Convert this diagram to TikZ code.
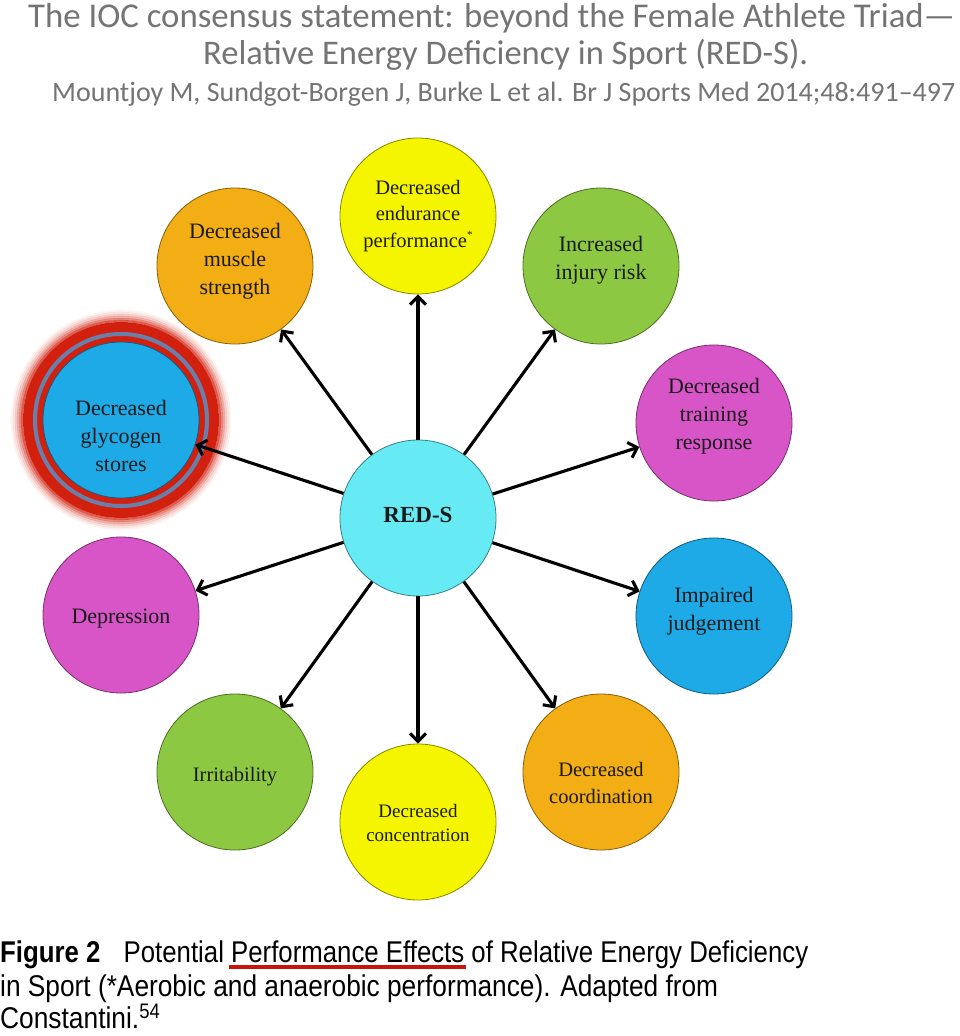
\documentclass[tikz,border=0pt]{standalone}
\usepackage{fontspec}
\usepackage{graphicx}
\setmainfont{Liberation Serif}
\newfontfamily\titlefont{Carlito}
\newfontfamily\capfont{Liberation Sans}
\usetikzlibrary{arrows.meta}
\definecolor{cyel}{HTML}{F5F500}
\definecolor{corg}{HTML}{F2AE14}
\definecolor{cgrn}{HTML}{8CC841}
\definecolor{cmag}{HTML}{D855C8}
\definecolor{cblu}{HTML}{1EAAE6}
\definecolor{ccya}{HTML}{66EBF5}
\definecolor{ctxt}{HTML}{1A1A1A}
\definecolor{ctitle}{HTML}{747474}
\definecolor{cred}{HTML}{D2200E}
\definecolor{cring}{HTML}{6A80AC}
\definecolor{ulred}{HTML}{C8140A}
\newcommand\redul[1]{\setbox0\hbox{#1}\rlap{\kern-2pt\color{ulred}\rule[-7pt]{\dimexpr\wd0+4pt\relax}{4pt}}\box0\relax}
\tikzset{
  bub/.style={circle, minimum size=156pt, inner sep=0pt, draw=#1!55!black, fill=#1, line width=0.8pt},
  lbl/.style={align=center, text=ctxt, inner sep=0pt},
  big/.style={font=\fontsize{22}{28}\selectfont},
  mid/.style={font=\fontsize{20.5}{26.5}\selectfont},
  sml/.style={font=\fontsize{19}{24}\selectfont},
  arr/.style={line width=3.1pt, -{Straight Barb[length=8pt,width=16pt]}},
  ttl/.style={anchor=base west, inner sep=0pt, text=ctitle},
  capline/.style={anchor=base west, inner sep=0pt, text=black}
}
\begin{document}
\begin{tikzpicture}[x=1pt,y=-1pt]
\useasboundingbox (0,0) rectangle (960,1036);
\fill[white] (0,0) rectangle (960,1036);

% title
\node[ttl] (t1) at (28,27) {\resizebox{927pt}{!}{\titlefont\fontsize{30}{30}\selectfont The IOC consensus statement: beyond the Female Athlete Triad—}};
\node[ttl] (t2) at (203,64) {\resizebox{605pt}{!}{\titlefont\fontsize{30}{30}\selectfont Relative Energy Deficiency in Sport (RED-S).}};
\node[ttl] (t3) at (52,101) {\resizebox{903pt}{!}{\titlefont\fontsize{26}{26}\selectfont Mountjoy M, Sundgot-Borgen J, Burke L et al. Br J Sports Med 2014;48:491–497}};

% glow around glycogen
\foreach \r/\o in {109/0.05,107/0.12,105/0.22,103/0.36,101/0.52,99/0.72} {
  \draw[cred, line width=2.2pt, opacity=\o] (121,420) circle (\r pt);
}
\fill[cred] (121,420) circle (98pt);
\draw[cring, line width=4pt] (121,420) circle (86pt);

% circles
\node[bub=ccya] (reds)  at (418,518) {};
\node[bub=cyel] (endur) at (418,216) {};
\node[bub=corg] (musc)  at (235,266) {};
\node[bub=cgrn] (inj)   at (601,266) {};
\node[bub=cmag] (train) at (714,423) {};
\node[bub=cblu] (judg)  at (714,616) {};
\node[bub=corg] (coord) at (601,772) {};
\node[bub=cyel] (conc)  at (418,822) {};
\node[bub=cgrn] (irr)   at (235,772) {};
\node[bub=cmag] (dep)   at (121,615) {};
\node[bub=cblu] (glyc)  at (121,420) {};

% labels
\node[lbl] (lreds)  at (418,515) {\fontsize{23}{28}\selectfont\bfseries RED-S};
\node[lbl, mid] (lendur) at (418,216) {Decreased\\endurance\\performance\raisebox{0.45em}{\fontsize{11}{11}\selectfont *}};
\node[lbl, big] (lmusc)  at (235,261) {Decreased\\muscle\\strength};
\node[lbl, big] (linj)   at (601,260) {Increased\\injury risk};
\node[lbl, big] (ltrain) at (714,416) {Decreased\\training\\response};
\node[lbl, big] (ljudg)  at (714,611) {Impaired\\judgement};
\node[lbl, mid] (lcoord) at (601,783) {Decreased\\coordination};
\node[lbl, sml] (lconc)  at (418,823) {Decreased\\concentration};
\node[lbl, mid] (lirr)   at (235,777) {Irritability};
\node[lbl, big] (ldep)   at (121,619) {Depression};
\node[lbl, big] (lglyc)  at (121,436) {Decreased\\glycogen\\stores};

% arrows
\foreach \t in {endur,musc,inj,train,judg,coord,conc,irr,dep,glyc} {
  \draw[arr] (reds) -- (\t);
}

% caption
\node[capline] (c1) at (0,962) {\resizebox{808pt}{\height}{\capfont\fontsize{30}{30}\selectfont\textbf{Figure 2}\hspace{0.9em}Potential \redul{Performance Effects} of Relative Energy Deficiency}};
\node[capline] (c2) at (0,996) {\resizebox{718pt}{\height}{\capfont\fontsize{30}{30}\selectfont in Sport (*Aerobic and anaerobic performance). Adapted from}};
\node[capline] (c3) at (0,1028) {\resizebox{160pt}{\height}{\capfont\fontsize{30}{30}\selectfont Constantini.\textsuperscript{54}}};
\end{tikzpicture}
\end{document}
